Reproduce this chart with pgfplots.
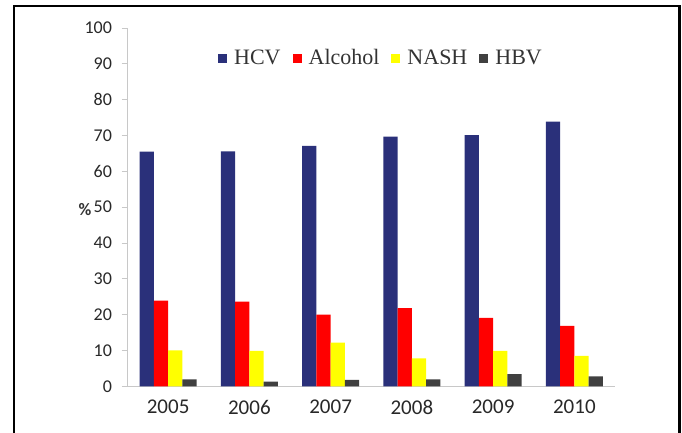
\documentclass[border=0pt]{standalone}
\usepackage{fontspec}
\setmainfont{Liberation Serif}
\newfontfamily\calfont{Carlito}
\usepackage{pgfplots}
\pgfplotsset{compat=1.18}
\definecolor{hcv}{RGB}{42,48,122}
\definecolor{alc}{RGB}{255,0,0}
\definecolor{nash}{RGB}{255,255,0}
\definecolor{hbv}{RGB}{64,64,64}
\definecolor{axgray}{RGB}{200,200,200}
\definecolor{lblgray}{RGB}{40,40,40}
\begin{document}
\begin{tikzpicture}[x=1pt,y=1pt]
\useasboundingbox (0,0) rectangle (682,432);
\draw[line width=2.2pt] (14,-5) -- (14,426) -- (679.5,426) -- (679.5,-5);
\begin{axis}[
  at={(127.5pt,45.7pt)}, anchor=south west,
  scale only axis, width=487.5pt, height=358.3pt,
  xmin=-0.5, xmax=5.5, ymin=0, ymax=100,
  ybar=0pt, bar width=14.3pt,
  axis x line=bottom, axis y line=left,
  axis line style={axgray, line width=0.8pt, -},
  xtick={0,...,5},
  xticklabels={2005,2006,2007,2008,2009,2010},
  xtick style={draw=none},
  extra x ticks={-0.5,0.5,1.5,2.5,3.5,4.5,5.5},
  extra x tick labels={},
  extra x tick style={xtick style={axgray, line width=0.8pt}},
  ytick={0,10,...,100},
  ytick style={axgray, line width=0.8pt},
  tick align=outside, major tick length=6pt,
  /pgf/number format/assume math mode=true,
  yticklabel style={font=\calfont\fontsize{18}{18}\selectfont, text=lblgray, xshift=-6pt},
  xticklabel style={font=\calfont\fontsize{21}{21}\selectfont, text=lblgray, yshift=-4pt},
  ylabel={\%},
  ylabel style={font=\calfont\bfseries\fontsize{17.5}{17.5}\selectfont, text=black!80, rotate=-90, at={(axis description cs:-0.087,0.494)}, anchor=center},
  legend columns=4,
  legend style={draw=none, fill=none, at={(axis description cs:0.52,0.916)}, anchor=center,
    font=\fontsize{22}{22}\selectfont, text=black!80,
    /tikz/every odd column/.append style={column sep=5pt},
    /tikz/every even column/.append style={column sep=10pt}},
  legend image code/.code={\fill[#1,draw=none] (0pt,-4.5pt) rectangle (9pt,4.5pt);},
]
\addplot[fill=hcv, draw=none] coordinates {(0,65.5) (1,65.6) (2,67.1) (3,69.7) (4,70.1) (5,73.9)};
\addplot[fill=alc, draw=none] coordinates {(0,23.9) (1,23.6) (2,20.0) (3,21.8) (4,19.1) (5,16.9)};
\addplot[fill=nash, draw=none] coordinates {(0,10.0) (1,9.9) (2,12.2) (3,7.8) (4,9.9) (5,8.5)};
\addplot[fill=hbv, draw=none] coordinates {(0,1.95) (1,1.3) (2,1.8) (3,1.9) (4,3.4) (5,2.8)};
\legend{HCV,Alcohol,NASH,HBV}
\end{axis}
\end{tikzpicture}
\end{document}
